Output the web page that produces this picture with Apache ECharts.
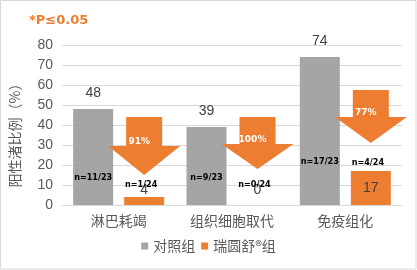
<!DOCTYPE html>
<html><head><meta charset="utf-8">
<script src="https://cdn.jsdelivr.net/npm/echarts@6/dist/echarts.min.js"></script>
<style>html,body{margin:0;padding:0;background:#fff}#c{width:417px;height:270px}</style>
</head><body><div id="c"></div>
<script>
var categories = ['淋巴耗竭', '组织细胞取代', '免疫组化'];
var controlValues = [48, 39, 74];
var treatValues = [4, 0, 17];
var seriesNames = ['对照组', '瑞圆舒®组'];
var controlN = ['n=11/23', 'n=9/23', 'n=17/23'];
var treatN = ['n=1/24', 'n=0/24', 'n=4/24'];
var controlNAt = [13.5, 13.5, 21.5];
var treatNAt = [10, 10, 21];
var arrowTop = [44, 44, 57.5];
var arrowNeck = [29.5, 30.5, 44];
var arrowTip = [15, 18, 31];
var arrowText = ['91%', '100%', '77%'];
var yTicks = [0, 10, 20, 30, 40, 50, 60, 70, 80];

var GRAY = '#A5A5A5', ORANGE = '#ED7D31';
var BAR_W = 40, BAR_GAP = 11;
var OFF = (BAR_W + BAR_GAP) / 2;

var chart = echarts.init(document.getElementById('c'), null, {renderer: 'canvas'});

var orangeLabelCfg = [
  {position: 'top', distance: 0},
  {position: 'top', distance: 8},
  {position: 'insideTop', distance: 10}
];

var option = {
  animation: false,
  title: {
    text: '*P≤0.05', left: 24, top: 9,
    textStyle: {color: ORANGE, fontSize: 13, fontWeight: 'bold', fontFamily: 'DejaVu Sans'}
  },
  graphic: [{
    type: 'rect', shape: {x: 0.5, y: 0.5, width: 415.5, height: 268.5},
    style: {fill: null, stroke: '#D9D9D9', lineWidth: 1}, silent: true, z: -1
  }],
  legend: {
    data: seriesNames, bottom: 12, left: 'center',
    itemWidth: 7, itemHeight: 7, itemGap: 6, icon: 'rect',
    textStyle: {color: '#595959', fontSize: 14, fontFamily: 'Noto Sans CJK SC'}
  },
  grid: {left: 62, right: 15, top: 45, bottom: 65},
  xAxis: {
    type: 'category', data: categories,
    axisLine: {lineStyle: {color: '#D9D9D9'}},
    axisTick: {show: false},
    axisLabel: {color: '#595959', fontSize: 14, margin: 9, fontFamily: 'Noto Sans CJK SC'}
  },
  yAxis: {
    type: 'value', min: yTicks[0], max: yTicks[yTicks.length - 1], interval: 10,
    name: '阳性渚比例（%）', nameLocation: 'middle', nameRotate: 90, nameGap: 40,
    nameTextStyle: {color: '#595959', fontSize: 14, fontFamily: 'Noto Sans CJK SC', padding: [0, 0, 0, -14]},
    axisLine: {show: false}, axisTick: {show: false},
    axisLabel: {color: '#595959', fontSize: 14, margin: 9, fontFamily: 'Liberation Sans'},
    splitLine: {lineStyle: {color: '#D9D9D9'}}
  },
  series: [
    {
      name: seriesNames[0], type: 'bar', data: controlValues,
      barWidth: BAR_W, barGap: (BAR_GAP / BAR_W * 100) + '%',
      itemStyle: {color: GRAY},
      label: {show: true, position: 'top', distance: 9, color: '#404040', fontSize: 14, fontFamily: 'Liberation Sans'}
    },
    {
      name: seriesNames[1], type: 'bar',
      data: treatValues.map(function (v, i) {
        return {value: v, label: orangeLabelCfg[i]};
      }),
      barWidth: BAR_W,
      itemStyle: {color: ORANGE},
      label: {show: true, color: '#404040', fontSize: 14, fontFamily: 'Liberation Sans'}
    },
    {
      type: 'custom', z: 5, silent: true,
      data: categories.map(function (c, i) { return [i, arrowTop[i], arrowNeck[i], arrowTip[i], arrowText[i]]; }),
      renderItem: function (params, api) {
        var i = api.value(0);
        var pTop = api.coord([i, api.value(1)]);
        var pNeck = api.coord([i, api.value(2)]);
        var pTip = api.coord([i, api.value(3)]);
        var cx = pTop[0] + OFF;
        var sw = 18, hw = 36;
        var pts = [
          [cx - sw, pTop[1]], [cx + sw, pTop[1]], [cx + sw, pNeck[1]], [cx + hw, pNeck[1]],
          [cx, pTip[1]], [cx - hw, pNeck[1]], [cx - sw, pNeck[1]]
        ];
        return {
          type: 'group',
          children: [
            {type: 'polygon', shape: {points: pts}, style: {fill: ORANGE}},
            {type: 'text', style: {
              text: arrowText[i], x: cx - 5, y: pNeck[1] - 4, align: 'center', verticalAlign: 'middle',
              fill: '#fff', fontSize: 9, fontWeight: 'bold', fontFamily: 'DejaVu Sans'
            }}
          ]
        };
      }
    },
    {
      type: 'custom', z: 6, silent: true,
      data: categories.map(function (c, i) { return [i, controlNAt[i], treatNAt[i]]; }),
      renderItem: function (params, api) {
        var i = api.value(0);
        var pg = api.coord([i, api.value(1)]);
        var po = api.coord([i, api.value(2)]);
        var st = {fill: '#000', fontSize: 9, fontWeight: 'bold', fontFamily: 'DejaVu Sans Condensed', align: 'center', verticalAlign: 'middle'};
        return {
          type: 'group',
          children: [
            {type: 'text', style: Object.assign({}, st, {text: controlN[i], x: pg[0] - OFF, y: pg[1]})},
            {type: 'text', style: Object.assign({}, st, {text: treatN[i], x: po[0] + OFF - 3, y: po[1]})}
          ]
        };
      }
    }
  ]
};
chart.setOption(option);
</script>
</body></html>
